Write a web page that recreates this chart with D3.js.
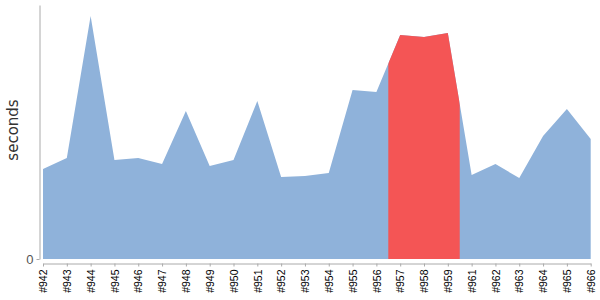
<!DOCTYPE html>
<html>
<head>
<meta charset="utf-8">
<script src="https://cdn.jsdelivr.net/npm/d3@7"></script>
<style>
  body { margin: 0; background: #fff; }
  svg { display: block; font-family: "DejaVu Sans", sans-serif; }
</style>
</head>
<body>
<div id="chart"></div>
<script>
// Variables
var width = 600;
var height = 300;

// builds on the x axis
var builds = ['#942', '#943', '#944', '#945', '#946', '#947', '#948', '#949', '#950', '#951', '#952', '#953',
  '#954', '#955', '#956', '#957', '#958', '#959', '#961', '#962', '#963', '#964', '#965', '#966'];

// duration of each build
var seconds = [90, 101, 243, 99, 101, 95, 148, 93, 99, 158, 82, 83,
  86, 169, 167, 224, 222, 226, 84, 95, 81, 123, 150, 120];

// highlighted builds (red band)
var highlighted = ['#957', '#958', '#959'];

var yTicks = [0];

var x = d3.scalePoint()
    .domain(builds)
    .range([43, 590.7]);

var y = d3.scaleLinear()
    .domain([0, 254])
    .range([259, 5]);

var svg = d3.select('#chart').append('svg')
    .attr('width', width)
    .attr('height', height);

var data = builds.map(function(b, i) {
  return { build: b, value: seconds[i] };
});

var area = d3.area()
    .x(function(d) { return x(d.build); })
    .y0(y(0))
    .y1(function(d) { return y(d.value); });

svg.append('path')
    .datum(data)
    .attr('d', area)
    .style('fill', '#8fb2da');

// red band: clip the area between half steps around the highlighted builds
var step = x.step();
var first = x(highlighted[0]) - step / 2;
var last = x(highlighted[highlighted.length - 1]) + step / 2;

svg.append('clipPath')
    .attr('id', 'band')
    .append('rect')
    .attr('x', first)
    .attr('y', 0)
    .attr('width', last - first)
    .attr('height', y(0));

svg.append('path')
    .datum(data)
    .attr('clip-path', 'url(#band)')
    .attr('d', area)
    .style('fill', '#f45555');

// axes
var xAxis = svg.append('g')
    .attr('transform', 'translate(0,263.5)')
    .call(d3.axisBottom(x).tickSize(3).tickSizeOuter(0));

xAxis.selectAll('text')
    .attr('transform', 'rotate(-90)')
    .attr('x', -6)
    .attr('y', 0)
    .attr('dy', '0.35em')
    .style('text-anchor', 'end')
    .style('font-size', '10.5px')
    .style('fill', '#000');

var yAxis = svg.append('g')
    .attr('transform', 'translate(39.5,0)')
    .call(d3.axisLeft(y).tickValues(yTicks).tickSize(3).tickSizeOuter(0));

yAxis.selectAll('text')
    .attr('x', -6)
    .style('font-size', '13px')
    .style('fill', '#555');

svg.selectAll('.domain, .tick line')
    .style('stroke', '#aaa');

svg.append('text')
    .attr('transform', 'translate(18,130)rotate(-90)')
    .style('text-anchor', 'middle')
    .style('font-size', '15px')
    .style('fill', '#333')
    .text('seconds');
</script>
</body>
</html>
